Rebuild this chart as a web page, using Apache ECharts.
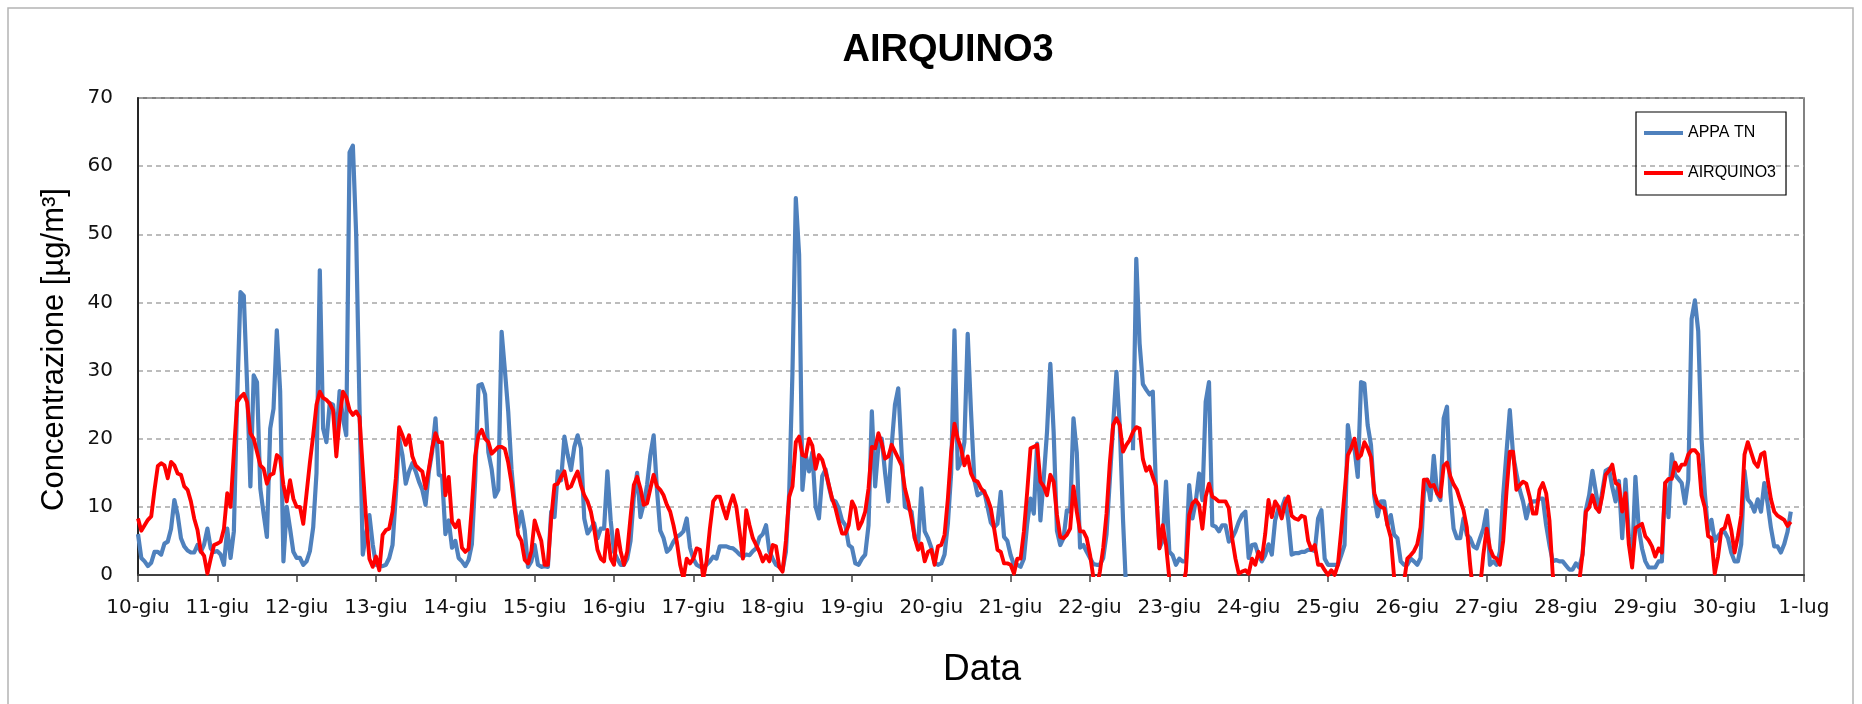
<!DOCTYPE html>
<html>
<head>
<meta charset="utf-8">
<script src="https://cdn.jsdelivr.net/npm/echarts@6/dist/echarts.min.js"></script>
<style>
html,body{margin:0;padding:0;background:#ffffff;}
#chart{width:1862px;height:704px;}
</style>
</head>
<body>
<div id="chart"></div>
<script>
// Day tick labels (one every 24 hourly points)
const dayLabels = ['10-giu','11-giu','12-giu','13-giu','14-giu','15-giu','16-giu','17-giu','18-giu','19-giu',
  '20-giu','21-giu','22-giu','23-giu','24-giu','25-giu','26-giu','27-giu','28-giu','29-giu','30-giu','1-lug'];

// Hourly concentrations, APPA TN (one row per day, 24 hours)
const appaTN = [
  6,2.5,2,1.3,1.8,3.4,3.4,3,4.6,4.9,6.8,11,8.8,5.4,4.2,3.6,3.3,3.3,4.4,3.4,4.5,6.8,3.9,3.4,
  3.5,3,1.5,6.8,2.5,6.4,26,41.5,41,28,13,29.3,28.3,12.7,9,5.6,21.5,24.4,35.9,27,2,10,6.8,3.4,
  2.5,2.5,1.5,2,3.5,7,15,44.7,21.5,19.5,25.2,25,20,27,23,20.5,62,63,50,25,3,6,8.8,4.5,
  1.5,1.3,1.3,1.5,2.5,4.4,11.7,20,17.6,13.4,15.2,16.4,15.2,13.7,12.5,10.3,15.2,18.1,23,14.7,14.5,6,8,4,
  5,2.5,2,1.3,2.2,4.5,14,27.8,28,26.5,18,15.5,11.5,12.5,35.7,30,24,15.5,10,7,9.3,6.5,1.2,2,
  4.4,1.5,1.2,1.3,1.2,9.3,8.5,15.2,13.9,20.3,17.6,15.4,18.8,20.5,18.6,8.3,6.1,6.8,7.6,5.4,6.8,6.8,15.2,8,
  3.4,2.4,1.5,1.5,2.4,5,11.5,15,8.5,10.5,13.2,17.6,20.5,12.5,6.5,5.4,3.4,3.9,4.9,5.6,5.9,6.4,8.3,4,
  2.4,1.5,1.2,1.2,1.5,2,2.7,2.4,4.2,4.2,4.2,4,3.9,3.5,3,2.7,3,2.9,3.5,3.9,5.5,6,7.3,3.5,
  2.4,1.5,1.2,0.8,3.4,12,30,55.3,47,12.5,17.6,15.2,18,10,8.3,14.5,15.5,13,11,10.8,9.8,8,7.3,4.4,
  4,1.7,1.5,2.4,3,7.3,24,13,19,20,15,10.8,19,25,27.4,18,10,9.8,9.3,5.4,4.4,12.7,6.4,5.4,
  4,1.8,1.5,1.7,3,7.5,15,35.9,15.6,16.6,19.5,35.4,24,14,11.7,12,12.3,10,7.7,7,7.5,12.2,5.6,5,
  2.9,1.5,1.5,1.2,2.4,7.5,11.2,9,19.3,8,14.2,21,31,21,6.5,4.4,5.4,9.5,9.3,23,18,4,4.4,3.4,
  2.5,1.6,1.5,1.5,2.5,6,14,22,29.8,22,8,-3,null,18.3,46.4,34,28,27.2,26.5,26.9,12,4,5,13.7,
  3.4,2.9,1.5,2.4,2,2,13.2,8.3,10.8,14.9,11,25.4,28.3,7.3,7.1,6.4,7.3,7.3,4.9,5.4,6.4,7.8,8.8,9.3,
  2.5,4.4,4.5,2.8,2,2.9,4.5,3,8,9.8,9.8,11.2,8,3,3.2,3.2,3.4,3.4,3.7,3.7,3.5,8.3,9.5,2.4,
  1.5,1.5,1.5,1.5,2.9,4.4,22,18.6,18.6,14.4,28.3,28.1,22,19.1,11.5,8.6,10.8,10.8,7.3,8.8,5.9,5.4,2,1.5,
  1.5,2.4,2,1.5,2.5,12,14,11,17.5,12,11,23,24.7,12.2,6.8,5.4,5.4,8.3,5.9,5.4,4.2,3.9,5.4,6.8,
  9.5,1.5,2,1.5,3.4,11.7,18,24.2,17.6,14.9,12.5,10.8,8.3,10.3,10.8,10.8,11.2,11.2,7.3,4.4,2,2.2,2,2,
  1.4,0.8,0.8,1.7,1.1,3,9.5,11.7,15.3,12.3,9.3,12.3,15.3,15.6,12.9,10.8,13.8,5.4,14,5.7,2,14.4,6.9,3.9,
  2,1.1,1.1,1.1,2,2,13.5,8.5,17.7,14.7,14.1,13.5,10.5,14,37.6,40.3,35.8,20,12,6.3,8.1,5,5.7,6.3,
  6.3,5.4,3.3,2,2,4.5,15.3,11.1,10.5,9.3,11.1,9.3,13.5,10.5,6.9,4.2,4.2,3.3,4.5,6.3,9.3,null,null,null
];

// Hourly concentrations, AIRQUINO3 (one row per day, 24 hours)
const airquino3 = [
  8.3,6.5,7.3,8.1,8.6,12.5,16,16.4,16.1,14.2,16.6,16.1,14.9,14.7,13,12.5,10.8,8.3,6.6,3.5,2.8,0.2,2.4,4.4,
  4.6,4.9,6.8,12,10,18,25.4,26.1,26.6,25.4,20.8,20,18.1,16.1,15.6,13.4,14.7,14.9,17.6,17.1,13.2,10.8,13.9,11.2,
  10,10,7.5,12,16.5,20.5,25,26.9,26,25.7,25.2,24.2,17.4,23,26.9,26.1,24.2,23.5,24,23.2,15.6,8.3,2.4,1.2,
  2.7,0.7,5.9,6.6,6.8,9.3,14.2,21.7,20.5,19.1,20.5,17.4,16.1,15.6,15.2,12.7,15.6,18.6,20.8,19.5,19.5,11.7,14.4,7.8,
  7,8,4,3.4,3.8,10,17.5,20.5,21.3,20,19.5,17.8,18.3,18.8,18.8,18.5,16.5,13.5,9.5,5.9,5,2.2,1.7,3.5,
  8,6.4,5,1.5,1.5,8.3,13.2,13.4,14.4,15.2,12.7,13,14.2,15.2,13.2,11.7,10.8,9.3,6.8,3.7,2.4,2,6.6,2.4,
  1.5,6.6,3.5,1.5,3.4,8.5,13.2,14.4,12.7,10.3,10.5,12.7,14.7,13,12.5,11.7,10.3,9.3,7.3,4.9,1.5,-0.5,2.4,1.7,
  2.4,3.9,3.7,-0.5,2,6.8,10.8,11.5,11.5,9.8,8.3,10.3,11.7,10,6.4,2.4,9.5,7.3,5.4,4.4,3.4,2,2.9,2,
  4.4,4.2,1.2,0.5,5,11.5,13,19.5,20.3,17.6,17.4,20,19,15.6,17.6,16.9,15.2,13.2,11.2,9.8,7.8,6.1,6.1,7.3,
  10.8,9.8,6.8,7.8,9.3,12.7,18.8,18.6,20.8,19.3,17.1,17.4,19.1,18.1,17.1,16.1,12.7,10.8,8.3,5.4,3.7,4.6,2,3.4,
  3.7,1.5,4.2,4.4,5.9,11.2,18.1,22.2,20,18.6,16.1,17.4,14.9,13.9,13.7,12.7,12.2,11.2,9.8,6.8,3.7,3.4,1.7,1.7,
  1.5,0.2,2.4,2.4,6.4,12.2,18.6,18.8,19.1,13.7,13,11.7,14.7,13.7,8.8,5.6,5.4,5.9,6.8,13,9.3,6.4,6.4,5.4,
  3,-0.3,-2,0.5,4,9,16.5,22,23,22,18.1,19.1,19.8,21,21.7,21.5,17,15.3,15.9,14.4,13,3.9,7.3,4.4,
  -0.5,-3,-3,-3,-2,0.5,8.8,10.5,11,10.3,6.8,11.5,13.4,11.5,11.2,10.8,10.8,10.8,9.8,5.4,2.4,0.2,0.5,0.7,
  0.2,2.4,1.5,3.4,2.4,6,11,8.5,10.8,10,8.3,10.5,11.5,8.7,8.3,8.1,8.7,8.5,5,3.7,4.4,1.5,1.5,0.7,
  0,0.7,0,1.5,6.5,12,17.6,18.6,20,17.1,17.6,19.5,18.6,17.3,12,10.5,10,9.8,7.3,5.5,-0.3,-3,-3,-1,
  2.4,2.9,3.5,4.5,7,14,14,13,13.2,12,11.5,16,16.5,14.5,13.3,12.5,11,9.5,7,1.5,-3,-3,-2,3,
  6.8,3.9,2.7,2.4,1.5,5,12.2,18.1,18.1,12.5,13.2,13.7,13.4,11.5,9,9,12.5,13.5,12,8,0,-3,-3,-3,
  -3,-3,-3,-3,-1,3,9.3,9.9,11.7,9.9,9.3,11.7,14.7,15.3,16.2,13.5,13.2,9.3,12,4.5,1.1,6.9,7.2,7.5,
  5.7,5.1,4.2,2.7,3.9,3.3,13.5,14.1,14.1,16.5,15.3,16.2,16.2,17.7,18.3,18.3,17.7,11.7,9.9,5.7,5.4,0.2,2.7,6.6,
  6.9,8.7,6.6,3.3,5.7,8.7,17.7,19.5,18,16.5,15.9,17.7,18,14.1,11.1,9.3,8.7,8.4,8.1,7.2,7.8,null,null,null
];

const HOURS_PER_DAY = 24;
const toPairs = arr => arr.map((v, i) => [i, v]);

const chart = echarts.init(document.getElementById('chart'), null, {renderer: 'canvas'});
const txt = '#111111';

chart.setOption({
  animation: false,
  backgroundColor: '#ffffff',
  title: {
    text: 'AIRQUINO3',
    left: 943,
    textAlign: 'center',
    top: 27,
    textStyle: {fontFamily: 'Liberation Sans', fontWeight: 'bold', fontSize: 38, color: '#000000'}
  },
  legend: {
    orient: 'vertical',
    left: 1636,
    top: 112,
    icon: 'rect',
    itemWidth: 39,
    itemHeight: 4,
    itemGap: 24,
    padding: [13, 10, 14, 8],
    borderColor: '#000000',
    borderWidth: 1.2,
    textStyle: {fontFamily: 'Liberation Sans', fontSize: 16, color: '#000000', lineHeight: 16},
    data: ['APPA TN', 'AIRQUINO3']
  },
  graphic: [{
    type: 'rect',
    silent: true,
    z: -10,
    shape: {x: 8, y: 8, width: 1845, height: 700},
    style: {fill: 'none', stroke: '#b4b4b4', lineWidth: 1.5}
  }],
  grid: {
    left: 138, right: 58, top: 98, bottom: 129,
    show: true, borderColor: '#595959', borderWidth: 1.5, backgroundColor: 'transparent'
  },
  xAxis: {
    type: 'value',
    min: 0,
    max: (dayLabels.length - 1) * HOURS_PER_DAY,
    interval: HOURS_PER_DAY,
    name: 'Data',
    nameLocation: 'middle',
    nameGap: 76,
    nameTextStyle: {fontFamily: 'Liberation Sans', fontSize: 37, color: '#000000', padding: [0, 0, 0, 22]},
    axisLine: {show: true, onZero: false, lineStyle: {color: '#404040', width: 2}},
    axisTick: {show: true, length: 7, lineStyle: {color: '#404040', width: 1.5}},
    axisLabel: {
      fontFamily: 'DejaVu Sans', fontSize: 20, color: txt, margin: 23,
      formatter: v => dayLabels[Math.round(v / HOURS_PER_DAY)]
    },
    splitLine: {show: false}
  },
  yAxis: {
    type: 'value',
    min: 0, max: 70, interval: 10,
    name: 'Concentrazione [µg/m³]',
    nameLocation: 'middle',
    nameRotate: 90,
    nameGap: 68,
    nameTextStyle: {fontFamily: 'Liberation Sans', fontSize: 31, color: '#000000', padding: [0, 26, 0, 0]},
    axisLine: {show: true, lineStyle: {color: '#262626', width: 2}},
    axisTick: {show: false},
    axisLabel: {fontFamily: 'DejaVu Sans', fontSize: 20, color: txt, margin: 25},
    splitLine: {show: true, lineStyle: {color: '#a6a6a6', width: 1.5, type: [5, 4]}}
  },
  series: [
    {
      name: 'APPA TN', type: 'line', data: toPairs(appaTN),
      symbol: 'none', showSymbol: false, connectNulls: false, clip: true,
      color: '#4F81BD',
      lineStyle: {color: '#4F81BD', width: 4.2, join: 'round'},
      z: 2
    },
    {
      name: 'AIRQUINO3', type: 'line', data: toPairs(airquino3),
      symbol: 'none', showSymbol: false, connectNulls: false, clip: true,
      color: '#FF0000',
      lineStyle: {color: '#FF0000', width: 3.9, join: 'round'},
      z: 3
    }
  ]
});
</script>
</body>
</html>
